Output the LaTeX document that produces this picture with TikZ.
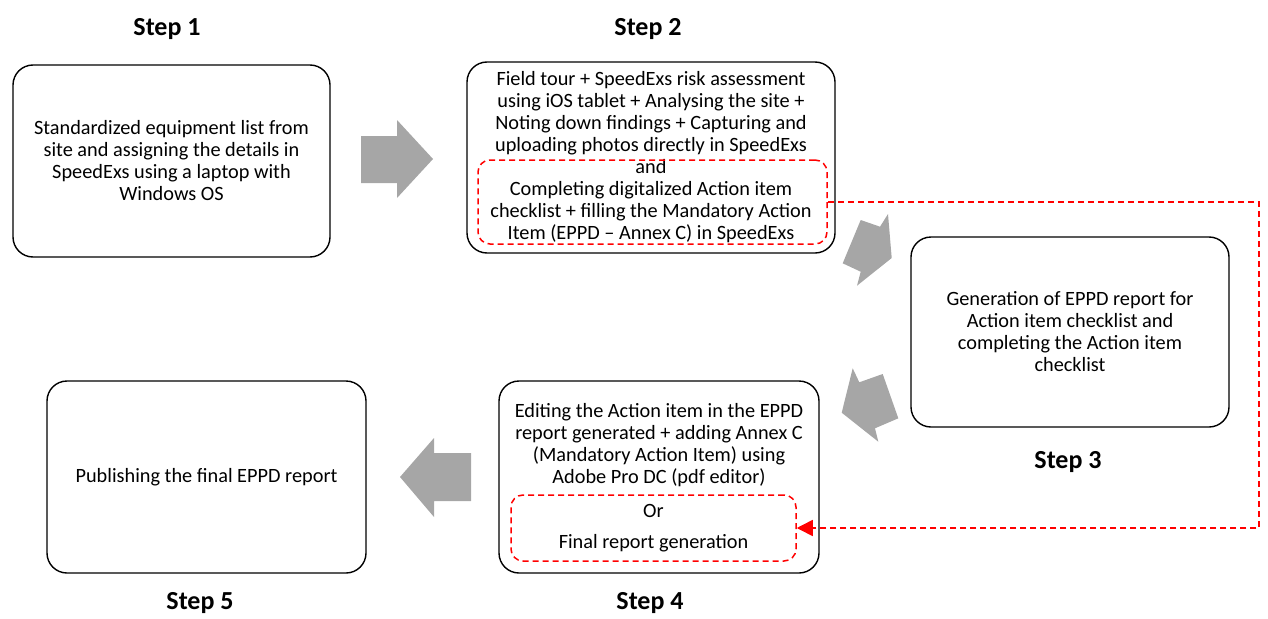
\documentclass[tikz,border=0pt]{standalone}
\usepackage{fontspec}
\setmainfont{Carlito}
\usetikzlibrary{arrows.meta}
\definecolor{arrowgray}{HTML}{A6A6A6}
\definecolor{dashred}{HTML}{FF0000}
\tikzset{
  stepbox/.style={draw=black, line width=1.4pt, rounded corners=20pt, inner sep=0pt,
    align=center, font=\fontsize{20.3}{22}\selectfont},
  redbox/.style={draw=dashred, line width=1.5pt, dash pattern=on 6pt off 4pt,
    rounded corners=12pt, inner sep=0pt, align=center, font=\fontsize{20.3}{22}\selectfont},
  steplabel/.style={font=\fontsize{26}{30}\selectfont\bfseries},
  bodytext/.style={align=center, inner sep=0pt, font=\fontsize{20.3}{22}\selectfont},
  blockarrow/.style={fill=arrowgray, draw=none},
  reddash/.style={draw=dashred, line width=1.6pt, dash pattern=on 6pt off 4pt}
}
\begin{document}
\begin{tikzpicture}[x=1pt, y=-1pt]
\useasboundingbox (0,0) rectangle (1268,618);

% step labels
\node[steplabel] (l1) at (167,29) {Step 1};
\node[steplabel] (l2) at (648,29) {Step 2};
\node[steplabel] (l3) at (1068,462) {Step 3};
\node[steplabel] (l4) at (650,603) {Step 4};
\node[steplabel] (l5) at (200,603) {Step 5};

% step boxes
\node[stepbox, minimum width=317pt, minimum height=192pt] (b1) at (171.5,161)
  {Standardized equipment list from\\site and assigning the details in\\SpeedExs using a laptop with\\Windows OS};
\node[stepbox, minimum width=368pt, minimum height=191pt] (b2) at (651,157.5)
  {Field tour + SpeedExs risk assessment\\using iOS tablet + Analysing the site +\\Noting down findings + Capturing and\\uploading photos directly in SpeedExs\\and\\Completing digitalized Action item\\checklist + filling the Mandatory Action\\Item (EPPD -- Annex C) in SpeedExs};
\node[stepbox, minimum width=318pt, minimum height=190pt] (b3) at (1070,332)
  {Generation of EPPD report for\\Action item checklist and\\completing the Action item\\checklist};
\node[stepbox, minimum width=320pt, minimum height=192pt] (b4) at (659,477) {};
\node[stepbox, minimum width=319pt, minimum height=192pt] (b5) at (206.5,477)
  {Publishing the final EPPD report};

% text of step 4
\node[bodytext] (t4) at (659,445)
  {Editing the Action item in the EPPD\\report generated + adding Annex C\\(Mandatory Action Item) using\\Adobe Pro DC (pdf editor)};

% dashed red boxes
\node[redbox, minimum width=349pt, minimum height=84pt] (r2) at (652.5,202) {};
\node[redbox, minimum width=285pt, minimum height=66pt] (r4) at (653.5,528)
  {Or\\[9pt]Final report generation};

% dashed connector between the red boxes
\coordinate (c1) at (1259,360);
\draw[reddash, -{Triangle[length=16pt, width=16pt]}] (r2.east) -| (c1) |- (r4.east);

% block arrows
\fill[blockarrow] (361,136) -- (397,136) -- (397,120) -- (433,159) -- (397,198) -- (397,183) -- (361,183) -- cycle;
\fill[blockarrow] (860.7,220) -- (880,226.7) -- (888,214) -- (891.7,258) -- (857,285.7) -- (860.7,271.7) -- (842.7,263.3) -- cycle;
\fill[blockarrow] (852.7,368.3) -- (859.3,382.3) -- (882.7,374) -- (898.3,418.3) -- (875,428.3) -- (878.3,441.7) -- (841.7,412.7) -- cycle;
\fill[blockarrow] (471,453) -- (434,453) -- (434,438) -- (400,477) -- (434,517) -- (434,501) -- (471,501) -- cycle;
\end{tikzpicture}
\end{document}
